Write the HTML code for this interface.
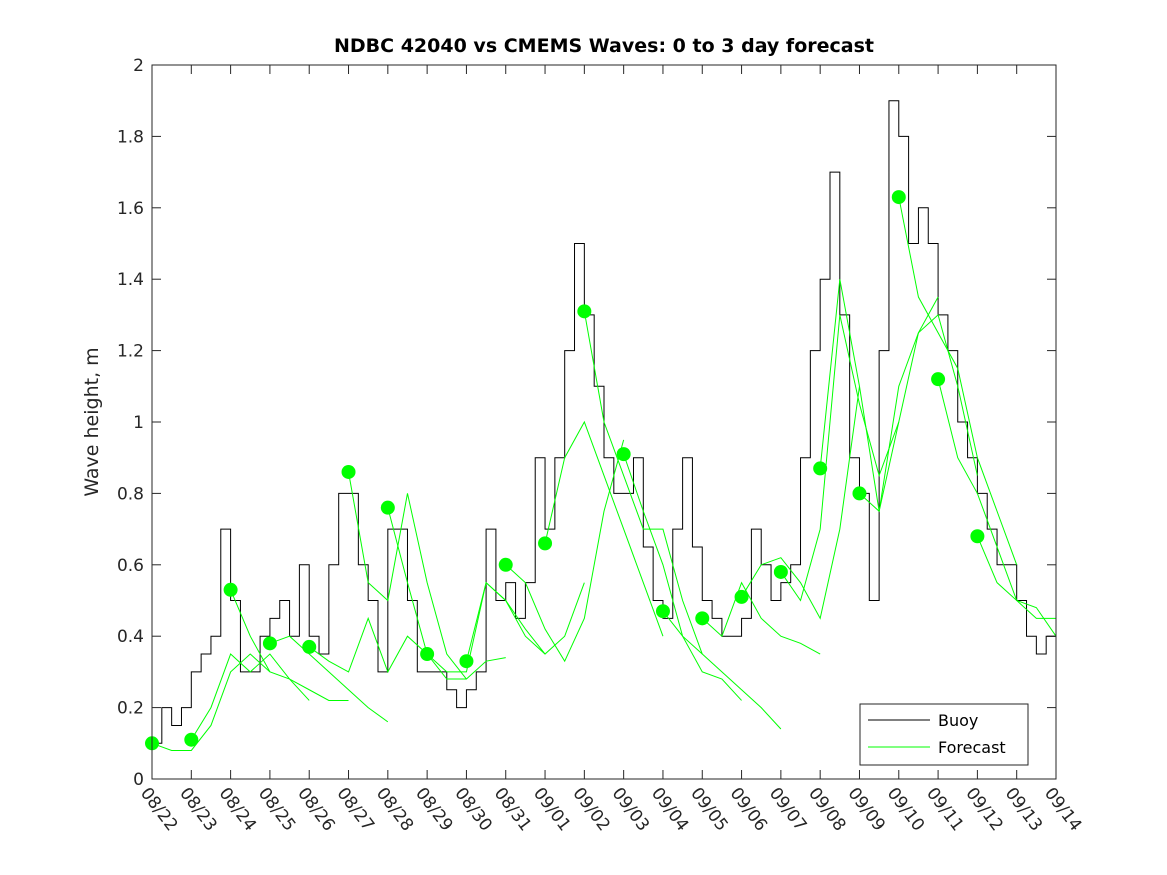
<!DOCTYPE html>
<html><head><meta charset="utf-8"><style>
html,body{margin:0;padding:0;background:#fff;}
svg{display:block;font-family:"DejaVu Sans","Liberation Sans",sans-serif;}
</style></head><body>
<svg id="chart" width="1167" height="875">
<rect width="1167" height="875" fill="#fff"/>
<text x="604" y="52" text-anchor="middle" font-weight="bold" font-size="19" fill="#000">NDBC 42040 vs CMEMS Waves: 0 to 3 day forecast</text>
<text transform="translate(98,422) rotate(-90)" text-anchor="middle" font-size="19" fill="#262626">Wave height, m</text>
<g id="axes"></g>
<g id="series"></g>
<rect x="152" y="65" width="904" height="714" fill="none" stroke="#262626" stroke-width="1"/>
<g>
<rect x="860" y="704" width="168" height="61" fill="#fff" stroke="#262626"/>
<line x1="868" y1="720" x2="930" y2="720" stroke="#000"/>
<text x="938" y="726" font-size="16" fill="#000">Buoy</text>
<line x1="868" y1="747" x2="930" y2="747" stroke="#00ff00"/>
<text x="938" y="753" font-size="16" fill="#000">Forecast</text>
</g>
</svg>
<script>
const dayLabels=["08/22","08/23","08/24","08/25","08/26","08/27","08/28","08/29","08/30","08/31","09/01","09/02","09/03","09/04","09/05","09/06","09/07","09/08","09/09","09/10","09/11","09/12","09/13","09/14"];
const yTicks=[0,0.2,0.4,0.6,0.8,1,1.2,1.4,1.6,1.8,2];
const yTickLabels=["0","0.2","0.4","0.6","0.8","1","1.2","1.4","1.6","1.8","2"];
// buoy, 6-hourly from 08/22 00Z
const buoy=[0.1,0.2,0.15,0.2, 0.3,0.35,0.4,0.7, 0.5,0.3,0.3,0.4, 0.45,0.5,0.4,0.6, 0.4,0.35,0.6,0.8, 0.8,0.6,0.5,0.3,
0.7,0.7,0.5,0.3, 0.3,0.3,0.25,0.2, 0.25,0.3,0.7,0.5, 0.55,0.45,0.55,0.9, 0.7,0.9,1.2,1.5, 1.3,1.1,0.9,0.8,
0.8,0.9,0.65,0.5, 0.45,0.7,0.9,0.65, 0.5,0.45,0.4,0.4, 0.45,0.7,0.6,0.5, 0.55,0.6,0.9,1.2, 1.4,1.7,1.3,0.9,
0.8,0.5,1.2,1.9, 1.8,1.5,1.6,1.5, 1.3,1.2,1.0,0.9, 0.8,0.7,0.6,0.6, 0.5,0.4,0.35,0.4];
// forecast start values (dots) per day
const dotValues=[0.10,0.11,0.53,0.38,0.37,0.86,0.76,0.35,0.33,0.60,0.66,1.31,0.91,0.47,0.45,0.51,0.58,0.87,0.80,1.63,1.12,0.68];
// forecast values 12-hourly after start
const fc0=[0.08,0.08,0.15,0.30,0.35,0.30];
const fc1=[0.20,0.35,0.30,0.35,0.28,0.22];
const fc2=[0.40,0.30,0.28,0.25,0.22,0.22];
const fc3=[0.40,0.35,0.30,0.25,0.20,0.16];
const fc4=[0.33,0.30,0.45,0.30,0.40,0.35];
const fc5=[0.55,0.50,0.80,0.55,0.35,0.28];
const fc6=[0.55,0.35,0.28,0.28,0.33,0.34];
const fc7=[0.30,0.30,0.55,0.50,0.42,0.35];
const fc8=[0.55,0.50,0.40,0.35,0.40,0.55];
const fc9=[0.55,0.42,0.33,0.45,0.75,0.95];
const fc10=[0.90,1.00,0.85,0.70,0.55,0.40];
const fc11=[1.00,0.85,0.70,0.70,0.50,0.35];
const fc12=[0.75,0.60,0.40,0.30,0.28,0.22];
const fc13=[0.40,0.35,0.30,0.25,0.20,0.14];
const fc14=[0.40,0.55,0.45,0.40,0.38,0.35];
const fc15=[0.60,0.62,0.55,0.45,0.70,1.10];
const fc16=[0.50,0.70,1.30,1.05,0.85,1.00];
const fc17=[1.40,1.10,0.75,1.00,1.25,1.35];
const fc18=[0.75,1.10,1.25,1.30,1.10,0.85];
const fc19=[1.35,1.25,1.15,0.90,0.75,0.60];
const fc20=[0.90,0.80,0.65,0.50,0.45,0.45];
const fc21=[0.55,0.50,0.48,0.40,0.62,0.55];
const forecasts=[fc0,fc1,fc2,fc3,fc4,fc5,fc6,fc7,fc8,fc9,fc10,fc11,fc12,fc13,fc14,fc15,fc16,fc17,fc18,fc19,fc20,fc21];

const NS="http://www.w3.org/2000/svg";
const X0=152,X1=1056,Y0=779,Y1=65,NDAYS=23;
const xs=d=>X0+(X1-X0)*d/NDAYS;
const ys=v=>Y0-(Y0-Y1)*v/2;
function mk(tag,attrs,parent){const e=document.createElementNS(NS,tag);for(const k in attrs)e.setAttribute(k,attrs[k]);parent.appendChild(e);return e;}
const axes=document.getElementById('axes'),series=document.getElementById('series');
yTicks.forEach((v,i)=>{
  const t=mk('line',{x1:X0,x2:X0+9,y1:ys(v),y2:ys(v),stroke:'#262626'},axes);
  
  
  const t2=mk('line',{x1:X1-9,x2:X1,y1:ys(v),y2:ys(v),stroke:'#262626'},axes);
  
  
  const l=mk('text',{x:X0-8,y:ys(v)+6,'text-anchor':'end','font-size':17,fill:'#262626'},axes);
  l.textContent=yTickLabels[i];
  
  
});
dayLabels.forEach((s,i)=>{
  const x=xs(i);
  const t=mk('line',{x1:x,x2:x,y1:Y0,y2:Y0-9,stroke:'#262626'},axes);
  
  
  const t2=mk('line',{x1:x,x2:x,y1:Y1,y2:Y1+9,stroke:'#262626'},axes);
  
  
  const l=mk('text',{transform:`translate(${x-12},${Y0+14}) rotate(53)`,'font-size':17,fill:'#262626'},axes);
  l.textContent=s;
  
  
});
// buoy step line
let d='';
buoy.forEach((v,i)=>{const x=xs(i/4),y=ys(v);d+=(i===0?`M${x},${y}`:`H${x}V${y}`);});
d+=`H${xs(buoy.length/4)}`;
const bl=mk('path',{d:d,fill:'none',stroke:'#000','stroke-width':1},series);


// forecasts
forecasts.forEach((f,k)=>{
  let p=`M${xs(k)},${ys(dotValues[k])}`;
  f.forEach((v,j)=>{const dd=k+(j+1)*0.5;if(dd<=NDAYS)p+=`L${xs(dd)},${ys(v)}`;});
  const fl=mk('path',{d:p,fill:'none',stroke:'#00ff00','stroke-width':1},series);
  
  
});
dotValues.forEach((v,k)=>{
  const c=mk('circle',{cx:xs(k),cy:ys(v),r:7,fill:'#00ff00'},series);
  
  
});
</script>
</body></html>
